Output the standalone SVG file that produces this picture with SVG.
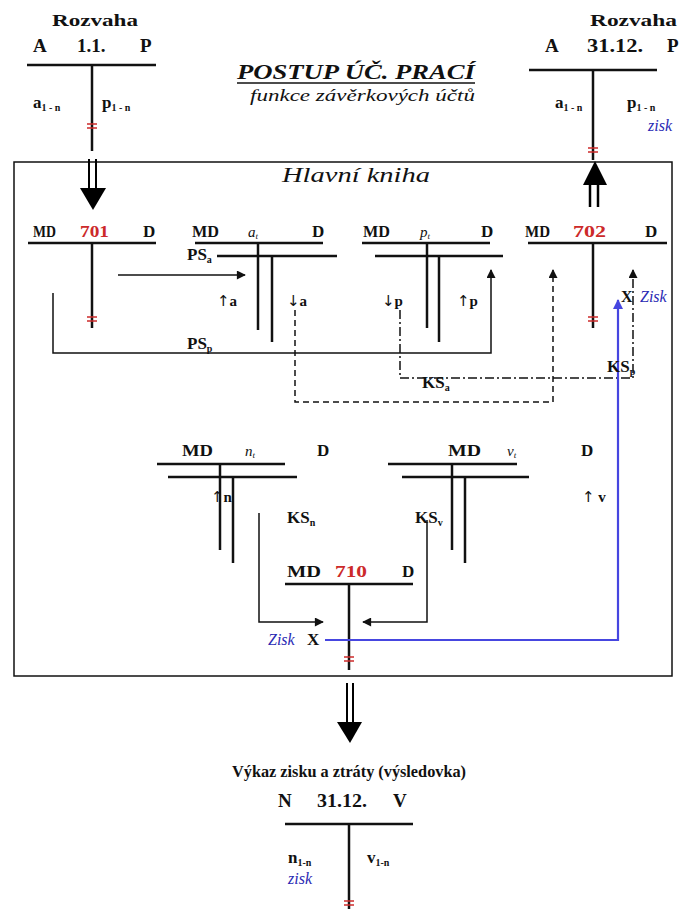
<svg xmlns="http://www.w3.org/2000/svg" width="683" height="909" viewBox="0 0 683 909" font-family="'Liberation Serif', 'Times New Roman', serif">
<style>
  text { font-family: "Liberation Serif", "Times New Roman", serif; fill: #111; }
  .b { font-weight: bold; }
  .it { font-style: italic; }
  .s14 { font-size: 15px; }
  .s15 { font-size: 16px; }
  .s16 { font-size: 17px; }
  .s18 { font-size: 19px; }
  .arr { font-family: "DejaVu Sans", sans-serif; font-weight: normal; fill: #111; }
  .red { fill: #cc2a2a; }
  .blue { fill: #2a2ab4; }
  .ln { stroke: #111; stroke-width: 2.5; fill: none; }
  .hash { stroke: #cc2a2a; stroke-width: 1.5; }
  .con { stroke: #111; stroke-width: 1.5; fill: none; }
  .dash { stroke-dasharray: 6 4; }
  .dashdot { stroke-dasharray: 9 3 2 3; }
  .bcon { stroke: #4646e0; stroke-width: 2.2; fill: none; }
  .big { fill: #000; }
  .box { stroke: #111; stroke-width: 1.5; fill: none; }
</style>
<defs>
  <marker id="ah" viewBox="0 0 10 10" refX="9" refY="5" markerWidth="10" markerHeight="9" markerUnits="userSpaceOnUse" orient="auto">
    <path d="M0,0 L10,5 L0,10 z" fill="#111"/>
  </marker>
  <marker id="ahb" viewBox="0 0 10 10" refX="9" refY="5" markerWidth="11" markerHeight="10" markerUnits="userSpaceOnUse" orient="auto">
    <path d="M0,0 L10,5 L0,10 z" fill="#4646e0"/>
  </marker>
</defs>
<rect width="683" height="909" fill="#fff"/>

<!-- Rozvaha 1.1. -->
<g id="rozvaha-start">
  <text class="b s16" x="52" y="26" textLength="86" lengthAdjust="spacingAndGlyphs">Rozvaha</text>
  <text class="b s18" x="33" y="52">A</text>
  <text class="b s18" x="77" y="52">1.1.</text>
  <text class="b s18" x="140" y="52">P</text>
  <line class="ln" x1="27" y1="65" x2="156" y2="65"/>
  <line class="ln" x1="92" y1="65" x2="92" y2="151"/>
  <line class="hash" x1="87" y1="124" x2="97" y2="124"/>
  <line class="hash" x1="87" y1="128" x2="97" y2="128"/>
  <text class="b s16" x="33" y="108">a<tspan font-size="10" dy="3">1 - n</tspan></text>
  <text class="b s16" x="102" y="108">p<tspan font-size="10" dy="3">1 - n</tspan></text>
</g>

<!-- Title -->
<g id="title">
  <text class="b it" font-size="21" x="237" y="79" textLength="238" lengthAdjust="spacingAndGlyphs">POSTUP ÚČ. PRACÍ</text>
  <line x1="237" y1="83" x2="475" y2="83" stroke="#111" stroke-width="1.3"/>
  <text class="it" font-size="16" x="250" y="101" textLength="225" lengthAdjust="spacingAndGlyphs">funkce závěrkových účtů</text>
</g>

<!-- Rozvaha 31.12. -->
<g id="rozvaha-end">
  <text class="b s16" x="590" y="26" textLength="87" lengthAdjust="spacingAndGlyphs">Rozvaha</text>
  <text class="b s18" x="545" y="52">A</text>
  <text class="b s18" x="587" y="52" textLength="56" lengthAdjust="spacingAndGlyphs">31.12.</text>
  <text class="b s18" x="667" y="52">P</text>
  <line class="ln" x1="529" y1="70" x2="657" y2="70"/>
  <line class="ln" x1="593" y1="70" x2="593" y2="160"/>
  <line class="hash" x1="588" y1="148" x2="598" y2="148"/>
  <line class="hash" x1="588" y1="152" x2="598" y2="152"/>
  <text class="b s16" x="555" y="108">a<tspan font-size="10" dy="3">1 - n</tspan></text>
  <text class="b s16" x="627" y="108">p<tspan font-size="10" dy="3">1 - n</tspan></text>
  <text class="it s15 blue" x="648" y="131">zisk</text>
</g>

<!-- Hlavní kniha frame -->
<g id="hlavni-kniha">
  <rect class="box" x="14" y="162" width="658" height="514"/>
  <text class="it" font-size="21" x="282" y="182" textLength="148" lengthAdjust="spacingAndGlyphs">Hlavní kniha</text>
</g>

<!-- big transfer arrows -->
<g id="transfer-arrows">
  <line x1="89" y1="159" x2="89" y2="190" stroke="#000" stroke-width="2"/>
  <line x1="96" y1="159" x2="96" y2="190" stroke="#000" stroke-width="2"/>
  <polygon class="big" points="80,188 106,188 93,210"/>
  <line x1="590" y1="183" x2="590" y2="207" stroke="#000" stroke-width="2.5"/>
  <line x1="598" y1="183" x2="598" y2="207" stroke="#000" stroke-width="2.5"/>
  <polygon class="big" points="583,185 607,185 595,161"/>
  <line x1="347" y1="683" x2="347" y2="724" stroke="#000" stroke-width="2"/>
  <line x1="353" y1="683" x2="353" y2="724" stroke="#000" stroke-width="2"/>
  <polygon class="big" points="337,722 362,722 350,743"/>
</g>

<!-- 701 -->
<g id="acc-701">
  <text class="b s16" x="33" y="237" textLength="23" lengthAdjust="spacingAndGlyphs">MD</text>
  <text class="b s16 red" x="80" y="237" textLength="29" lengthAdjust="spacingAndGlyphs">701</text>
  <text class="b s16" x="143" y="237">D</text>
  <line class="ln" x1="28" y1="243" x2="156" y2="243"/>
  <line class="ln" x1="92" y1="243" x2="92" y2="328"/>
  <line class="hash" x1="87" y1="317" x2="97" y2="317"/>
  <line class="hash" x1="87" y1="321" x2="97" y2="321"/>
</g>

<!-- a_t -->
<g id="acc-at">
  <text class="b s16" x="192" y="237" textLength="27" lengthAdjust="spacingAndGlyphs">MD</text>
  <text class="it s14" x="248" y="237">a<tspan font-size="9" dy="2">t</tspan></text>
  <text class="b s16" x="312" y="237">D</text>
  <line class="ln" x1="195" y1="243" x2="323" y2="243"/>
  <line class="ln" x1="217" y1="256" x2="337" y2="256"/>
  <line class="ln" x1="258" y1="243" x2="258" y2="330"/>
  <line class="ln" x1="272" y1="256" x2="272" y2="342"/>
  <text class="b s14" x="217" y="306"><tspan class="arr">↑</tspan>a</text>
  <text class="b s14" x="287" y="306"><tspan class="arr">↓</tspan>a</text>
</g>

<!-- p_t -->
<g id="acc-pt">
  <text class="b s16" x="363" y="237" textLength="27" lengthAdjust="spacingAndGlyphs">MD</text>
  <text class="it s14" x="420" y="237">p<tspan font-size="9" dy="2">t</tspan></text>
  <text class="b s16" x="481" y="237">D</text>
  <line class="ln" x1="362" y1="243" x2="490" y2="243"/>
  <line class="ln" x1="375" y1="256" x2="503" y2="256"/>
  <line class="ln" x1="427" y1="243" x2="427" y2="328"/>
  <line class="ln" x1="439" y1="256" x2="439" y2="342"/>
  <text class="b s14" x="382" y="306"><tspan class="arr">↓</tspan>p</text>
  <text class="b s14" x="457" y="306"><tspan class="arr">↑</tspan>p</text>
</g>

<!-- 702 -->
<g id="acc-702">
  <text class="b s16" x="525" y="237" textLength="25" lengthAdjust="spacingAndGlyphs">MD</text>
  <text class="b s16 red" x="573" y="237" textLength="33" lengthAdjust="spacingAndGlyphs">702</text>
  <text class="b s16" x="645" y="237">D</text>
  <line class="ln" x1="528" y1="243" x2="667" y2="243"/>
  <line class="ln" x1="593" y1="243" x2="593" y2="328"/>
  <line class="hash" x1="588" y1="317" x2="598" y2="317"/>
  <line class="hash" x1="588" y1="321" x2="598" y2="321"/>
  <text class="b s15" x="621" y="302">X</text>
  <text class="it s15 blue" x="640" y="302">Zisk</text>
</g>

<!-- n_t -->
<g id="acc-nt">
  <text class="b s16" x="182" y="456" textLength="31" lengthAdjust="spacingAndGlyphs">MD</text>
  <text class="it s14" x="245" y="456">n<tspan font-size="9" dy="2">t</tspan></text>
  <text class="b s16" x="317" y="456">D</text>
  <line class="ln" x1="157" y1="464" x2="285" y2="464"/>
  <line class="ln" x1="168" y1="477" x2="297" y2="477"/>
  <line class="ln" x1="220" y1="464" x2="220" y2="550"/>
  <line class="ln" x1="233" y1="477" x2="233" y2="563"/>
  <text class="b s14" x="211" y="502"><tspan class="arr">↑</tspan>n</text>
</g>

<!-- v_t -->
<g id="acc-vt">
  <text class="b s16" x="448" y="456" textLength="33" lengthAdjust="spacingAndGlyphs">MD</text>
  <text class="it s14" x="507" y="456">v<tspan font-size="9" dy="2">t</tspan></text>
  <text class="b s16" x="581" y="456">D</text>
  <line class="ln" x1="388" y1="464" x2="517" y2="464"/>
  <line class="ln" x1="402" y1="477" x2="529" y2="477"/>
  <line class="ln" x1="452" y1="464" x2="452" y2="550"/>
  <line class="ln" x1="465" y1="477" x2="465" y2="563"/>
  <text class="b s14" x="582" y="502"><tspan class="arr">↑</tspan> v</text>
</g>

<!-- 710 -->
<g id="acc-710">
  <text class="b s16" x="287" y="577" textLength="34" lengthAdjust="spacingAndGlyphs">MD</text>
  <text class="b s16 red" x="335" y="577" textLength="32" lengthAdjust="spacingAndGlyphs">710</text>
  <text class="b s16" x="402" y="577">D</text>
  <line class="ln" x1="285" y1="584" x2="413" y2="584"/>
  <line class="ln" x1="349" y1="584" x2="349" y2="670"/>
  <line class="hash" x1="344" y1="657" x2="354" y2="657"/>
  <line class="hash" x1="344" y1="661" x2="354" y2="661"/>
  <text class="it s15 blue" x="268" y="645">Zisk</text>
  <text class="b s16" x="307" y="645">X</text>
</g>

<!-- Výkaz zisku a ztráty -->
<g id="vysledovka">
  <text class="b s16" x="349" y="777" text-anchor="middle" textLength="234" lengthAdjust="spacingAndGlyphs">Výkaz zisku a ztráty (výsledovka)</text>
  <text class="b s18" x="278" y="807">N</text>
  <text class="b s18" x="317" y="807" textLength="50" lengthAdjust="spacingAndGlyphs">31.12.</text>
  <text class="b s18" x="393" y="807">V</text>
  <line class="ln" x1="285" y1="824" x2="413" y2="824"/>
  <line class="ln" x1="349" y1="824" x2="349" y2="909"/>
  <line class="hash" x1="344" y1="901" x2="354" y2="901"/>
  <line class="hash" x1="344" y1="905" x2="354" y2="905"/>
  <text class="b s16" x="288" y="863">n<tspan font-size="10" dy="3">1-n</tspan></text>
  <text class="b s16" x="367" y="863">v<tspan font-size="10" dy="3">1-n</tspan></text>
  <text class="it s15 blue" x="288" y="884">zisk</text>
</g>

<!-- connectors -->
<g id="connectors">
  <line class="con" x1="118" y1="275" x2="245" y2="275" marker-end="url(#ah)"/>
  <polyline class="con" points="53,293 53,353 491,353 491,270" marker-end="url(#ah)"/>
  <polyline class="con dash" points="295,310 295,402 553,402 553,270" marker-end="url(#ah)"/>
  <polyline class="con dashdot" points="400,310 400,378 633,378 633,270" marker-end="url(#ah)"/>
  <polyline class="con" points="259,513 259,622 323,622" marker-end="url(#ah)"/>
  <polyline class="con" points="427,520 427,622 363,622" marker-end="url(#ah)"/>
  <polyline class="bcon" points="325,640 618,640 618,300" marker-end="url(#ahb)"/>
  <text class="b s16" x="187" y="260">PS<tspan font-size="10" dy="3">a</tspan></text>
  <text class="b s16" x="187" y="349">PS<tspan font-size="10" dy="3">p</tspan></text>
  <text class="b s16" x="422" y="388">KS<tspan font-size="10" dy="3">a</tspan></text>
  <text class="b s16" x="607" y="372">KS<tspan font-size="10" dy="3">p</tspan></text>
  <text class="b s16" x="287" y="523">KS<tspan font-size="10" dy="3">n</tspan></text>
  <text class="b s16" x="415" y="523">KS<tspan font-size="10" dy="3">v</tspan></text>
</g>
</svg>
